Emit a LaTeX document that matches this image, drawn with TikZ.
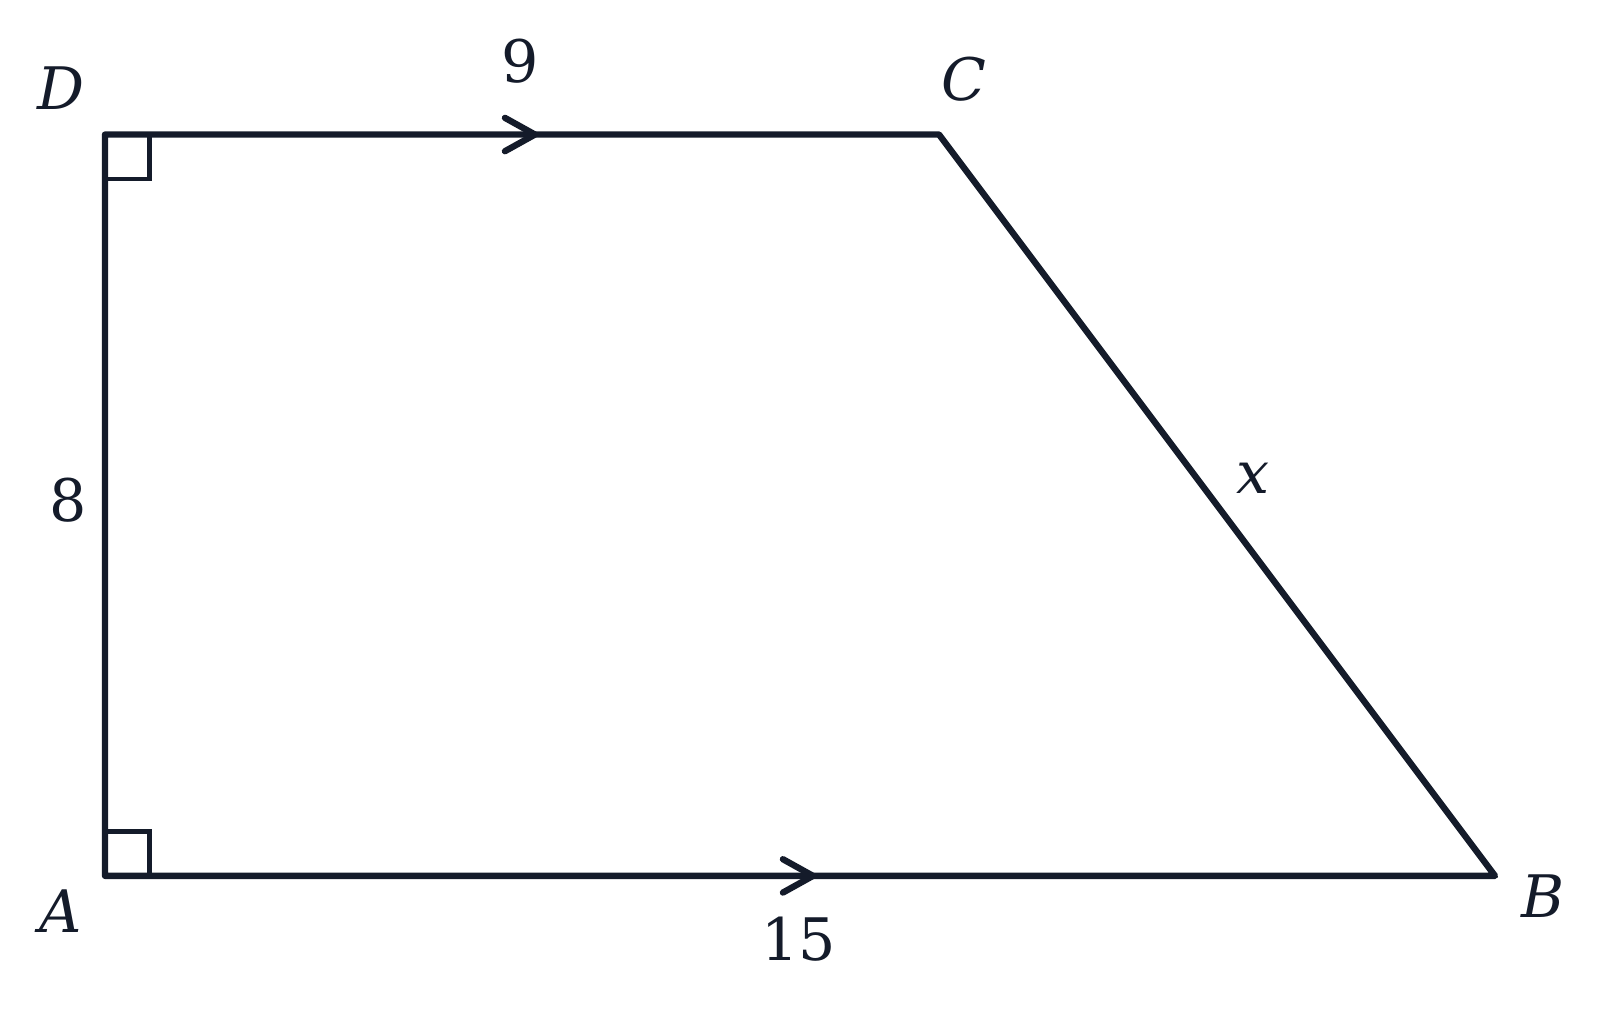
\documentclass[tikz,border=0pt]{standalone}
\usepackage{fontspec}
\setmainfont{DejaVu Serif}
\definecolor{ink}{HTML}{141B2A}

\begin{document}
\begin{tikzpicture}[font=\fontsize{18}{22}\selectfont, color=ink,
    side/.style={line width=1.95pt, line join=round},
    tick/.style={line width=1.95pt, line cap=round, line join=round},
    corner/.style={line width=1.3pt}]
            \useasboundingbox (-1.133,-1.457) rectangle (16.133,9.452);
            \coordinate (A) at (0,0);
            \coordinate (B) at (15,0);
            \coordinate (C) at (9,8);
            \coordinate (D) at (0,8);
            \draw[corner] (A) rectangle (0.48,0.48);
            \draw[corner] (D) rectangle (0.48,7.52);
            \draw[side] (A) -- (B) -- (C) -- (D) -- cycle;
            \draw[tick] (4.316,8.18) -- (4.64,8) -- (4.316,7.82);
            \draw[tick] (7.316,0.18) -- (7.64,0) -- (7.316,-0.18);
            \node (labD) at (-0.474,8.502) {\textit{D}};
            \node (labC) at (9.273,8.601) {\textit{C}};
            \node (labA) at (-0.474,-0.385) {\textit{A}};
            \node (labB) at (15.518,-0.220) {\textit{B}};
            \node (lenDC) at (4.482,8.789) {9};
            \node (lenAD) at (-0.396,4.053) {8};
            \node (lenAB) at (7.489,-0.683) {15};
            \node (lenBC) at (12.390,4.295) {\textit{x}};
        \end{tikzpicture}
\end{document}
